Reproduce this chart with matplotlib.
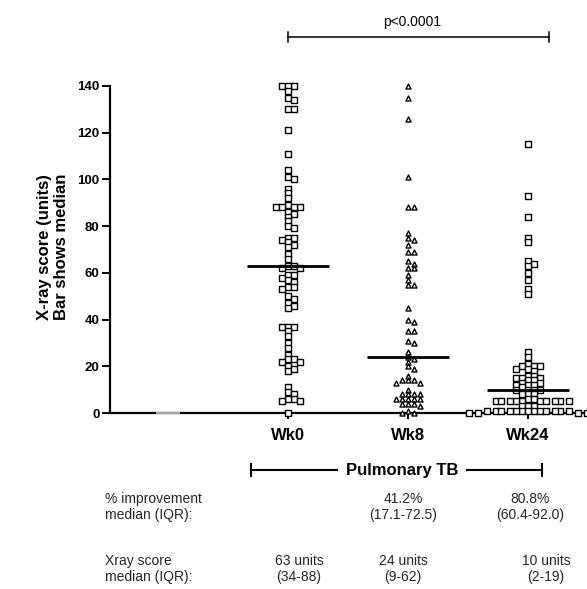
import numpy as np
import matplotlib.pyplot as plt
from matplotlib.lines import Line2D

plt.rcParams['font.family'] = ['Liberation Sans', 'DejaVu Sans']

# X-ray scores (units), one list per time point
wk0 = [140, 140, 140, 138, 135, 134, 130, 130, 121, 111,
       104, 101, 100, 96, 94, 92, 89, 88, 88, 88,
       88, 86, 85, 84, 82, 80, 79, 75, 75, 74,
       73, 72, 71, 68, 66, 63, 62, 63, 62, 59,
       58, 59, 57, 56, 54, 54, 53, 50, 49, 47,
       46, 45, 37, 37, 37, 35, 33, 30, 28, 25,
       23, 23, 22, 22, 20, 18, 19, 11, 9, 8,
       6, 6, 5, 5, 0]
wk8 = [140, 135, 126, 101, 88, 88, 77, 75, 74, 72,
       69, 69, 65, 64, 62, 62, 59, 57, 55, 55,
       45, 40, 39, 35, 35, 31, 30, 26, 24, 23,
       22, 20, 19, 16, 14, 13, 14, 13, 14, 10,
       8, 8, 8, 8, 6, 6, 6, 6, 6, 4,
       4, 4, 3, 1, 0, 0]
wk24 = [115, 93, 84, 75, 73, 65, 64, 63, 60, 57, 53, 51,
        26, 24, 21, 20, 20, 20, 19, 19, 18, 16, 16, 15, 15, 15,
        14, 14, 13, 13, 12, 12, 12, 11, 10, 10, 10, 10, 8, 8, 8,
        6, 6, 5, 5, 5, 5, 5, 5, 5, 5, 5, 5, 3, 3, 3,
        1, 1, 1, 1, 1, 1, 1, 1, 1, 1, 1, 1, 1, 0, 0, 0, 0]
medians = [63, 24, 10]
groups = ['Wk0', 'Wk8', 'Wk24']
yticks = [0, 20, 40, 60, 80, 100, 120, 140]

improve = ['', '41.2%\n(17.1-72.5)', '80.8%\n(60.4-92.0)']
score_txt = ['63 units\n(34-88)', '24 units\n(9-62)', '10 units\n(2-19)']

W, H = 587, 589
fig = plt.figure(figsize=(W / 100, H / 100), dpi=100)
ax = fig.add_axes([110 / W, 1 - 413 / H, 473 / W, 327 / H])
ax.set_xlim(-0.483, 3.458)
ax.set_ylim(0, 140)


def px(x, y):
    return x / W, 1 - y / H


def swarm(xc, values, dx, dy):
    # simple beeswarm worked out in pixel space, returns x in data units
    pts = ax.transData.transform(np.column_stack([np.full(len(values), xc), values]))
    x0 = pts[0, 0]
    placed = []
    xs = np.zeros(len(values))
    for i in np.argsort(values)[::-1]:
        y = pts[i, 1]
        k = 0
        while True:
            cands = [0.0] if k == 0 else [k * dx / 2, -k * dx / 2]
            ok = None
            for c in cands:
                if all(abs(c - px_) >= dx or abs(y - py_) >= dy for px_, py_ in placed):
                    ok = c
                    break
            if ok is not None:
                placed.append((ok, y))
                xs[i] = ok
                break
            k += 1
    return ax.transData.inverted().transform(np.column_stack([x0 + xs, pts[:, 1]]))[:, 0]


data = [wk0, wk8, wk24]
markers = ['s', '^', 's']
sizes = [13, 13, 13]
for i, vals in enumerate(data):
    pos = i + 1
    xs = swarm(pos, np.array(vals, float), 5.9, 4.0)
    ax.scatter(xs, vals, marker=markers[i], s=sizes[i], facecolor='white',
               edgecolor='black', linewidth=1.0, zorder=3, clip_on=False)
    ax.plot([pos - 0.34, pos + 0.34], [medians[i], medians[i]], color='black',
            lw=2.0, zorder=4, solid_capstyle='butt')

# empty first category shows as a grey stretch of the axis
ax.plot([-0.1, 0.1], [0, 0], color='0.65', lw=1.6, zorder=5, clip_on=False,
        solid_capstyle='butt')

for s in ['top', 'right']:
    ax.spines[s].set_visible(False)
for s in ['left', 'bottom']:
    ax.spines[s].set_linewidth(1.6)

ax.set_yticks(yticks)
ax.set_yticklabels([str(t) for t in yticks], fontsize=9.5, fontweight='bold')
ax.tick_params(axis='y', length=6, width=1.4, pad=1.5)
ax.set_xticks([1, 2, 3])
ax.set_xticklabels(groups, fontsize=12, fontweight='bold')
ax.tick_params(axis='x', length=4, width=1.4, pad=7)

fig.text(*px(53, 247), 'X-ray score (units)\nBar shows median', rotation=90,
         ha='center', va='center', fontsize=12, fontweight='bold', linespacing=1.15)

# significance bracket
fig.add_artist(Line2D([288 / W, 549 / W], [1 - 37 / H] * 2, color='black', lw=1.1))
for xp in (288, 549):
    fig.add_artist(Line2D([xp / W] * 2, [1 - 32 / H, 1 - 42 / H], color='black', lw=1.1))
fig.text(*px(412, 22), 'p<0.0001', ha='center', va='center', fontsize=10)

# Pulmonary TB bracket
fig.add_artist(Line2D([251 / W, 337 / W], [1 - 470 / H] * 2, color='black', lw=1.5))
fig.add_artist(Line2D([467 / W, 542 / W], [1 - 470 / H] * 2, color='black', lw=1.5))
for xp in (251, 542):
    fig.add_artist(Line2D([xp / W] * 2, [1 - 464 / H, 1 - 476 / H], color='black', lw=1.5))
fig.text(*px(402, 470), 'Pulmonary TB', ha='center', va='center', fontsize=12,
         fontweight='bold')

fig.text(*px(105, 507), '% improvement\nmedian (IQR):', ha='left', va='center',
         fontsize=10, linespacing=1.25, color='0.15')
fig.text(*px(105, 569), 'Xray score\nmedian (IQR):', ha='left', va='center',
         fontsize=10, linespacing=1.25, color='0.15')
imp_x = [299, 403, 530]
score_x = [299, 403, 546]
for i in range(3):
    if improve[i]:
        fig.text(*px(imp_x[i], 507), improve[i], ha='center', va='center',
                 fontsize=10, linespacing=1.25, color='0.15')
    fig.text(*px(score_x[i], 569), score_txt[i], ha='center', va='center',
             fontsize=10, linespacing=1.25, color='0.15')

fig.savefig('out.png', dpi=100)
